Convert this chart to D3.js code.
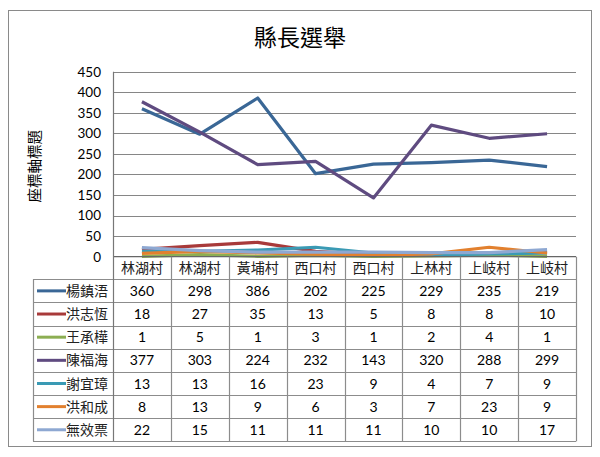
<!DOCTYPE html>
<html><head><meta charset="utf-8">
<script src="https://cdn.jsdelivr.net/npm/d3@7"></script>
<style>body{margin:0;background:#fff;}svg{display:block;}</style>
</head><body><svg id="c" width="600" height="457"></svg>
<script>
const categories = ["林湖村","林湖村","黃埔村","西口村","西口村","上林村","上岐村","上岐村"];
const seriesNames = ["楊鎮浯","洪志恆","王承樺","陳福海","謝宜璋","洪和成","無效票"];
const v楊鎮浯 = [360,298,386,202,225,229,235,219];
const v洪志恆 = [18,27,35,13,5,8,8,10];
const v王承樺 = [1,5,1,3,1,2,4,1];
const v陳福海 = [377,303,224,232,143,320,288,299];
const v謝宜璋 = [13,13,16,23,9,4,7,9];
const v洪和成 = [8,13,9,6,3,7,23,9];
const v無效票 = [22,15,11,11,11,10,10,17];
const seriesValues = [v楊鎮浯,v洪志恆,v王承樺,v陳福海,v謝宜璋,v洪和成,v無效票];
const seriesColors = ["#3A6796","#A83A3A","#8CAE52","#5F4B80","#3A9AB4","#E2802E","#8EA8D2"];
const yTicks = [0,50,100,150,200,250,300,350,400,450];
const title = "縣長選舉";
const yTitle = "座標軸標題";

const svg = d3.select("#c");
const cjk = "'Noto Sans CJK TC','Noto Sans CJK SC',sans-serif";
const num = "Lato,'Open Sans',sans-serif";

svg.append("rect").attr("x",8.5).attr("y",10.5).attr("width",583).attr("height",436)
  .attr("fill","#fff").attr("stroke","#8a8a8a").attr("stroke-width",1);

const L=113, R=576, T=71.7, B=256.7;
const x = d3.scaleBand().domain(d3.range(categories.length)).range([L,R]).padding(0);
const y = d3.scaleLinear().domain([0,450]).range([B,T]);

svg.append("text").attr("x",300).attr("y",46).attr("text-anchor","middle")
  .attr("font-family",cjk).attr("font-size",23).attr("fill","#000").text(title);

// gridlines
svg.append("g").selectAll("line").data(yTicks.filter(t=>t>0)).join("line")
  .attr("x1",L).attr("x2",R).attr("y1",d=>Math.round(y(d))+0.5).attr("y2",d=>Math.round(y(d))+0.5)
  .attr("stroke","#868686").attr("stroke-width",1);

// y axis labels
const yAxis = d3.axisLeft(y).tickValues(yTicks).tickSize(0).tickPadding(0);
const ga = svg.append("g").attr("transform",`translate(${L-12},0)`).call(yAxis);
ga.select(".domain").remove();
ga.selectAll("text").attr("font-family",num).attr("font-size",13.5).attr("fill","#000");

svg.append("text").attr("transform",`translate(40,${(T+B)/2+2}) rotate(-90)`)
  .attr("text-anchor","middle").attr("font-family",cjk).attr("font-size",14.5)
  .attr("fill","#000").text(yTitle);

// lines
const line = d3.line().x((d,i)=>x(i)+x.bandwidth()/2).y(d=>y(d));
svg.append("g").selectAll("path").data(seriesValues).join("path")
  .attr("d",d=>line(d)).attr("fill","none").attr("stroke",(d,i)=>seriesColors[i])
  .attr("stroke-width",3.2).attr("stroke-linejoin","round").attr("stroke-linecap","butt");

// table
const rowH = 23.15;
const headTop = B, headBot = B+22.6;
const tg = svg.append("g");
const lineColor = "#8c8c8c";
const rowsBottom = headBot + rowH*seriesNames.length;
tg.append("line").attr("x1",L).attr("x2",R).attr("y1",headTop).attr("y2",headTop).attr("stroke","#666").attr("stroke-width",1.2);
for(let i=0;i<=seriesNames.length;i++){
  const yy = Math.round(headBot + rowH*i)+0.5;
  tg.append("line").attr("x1",33).attr("x2",R).attr("y1",yy).attr("y2",yy).attr("stroke",lineColor).attr("stroke-width",1.2);
}
tg.append("line").attr("x1",33.5).attr("x2",33.5).attr("y1",headBot).attr("y2",rowsBottom).attr("stroke",lineColor).attr("stroke-width",1.2);
svg.append("line").attr("x1",L+0.5).attr("x2",L+0.5).attr("y1",T).attr("y2",rowsBottom).attr("stroke","#777").attr("stroke-width",1.2);
for(let i=1;i<=categories.length;i++){
  const xx = Math.round(x(0)+x.bandwidth()*i)+0.5;
  tg.append("line").attr("x1",xx).attr("x2",xx).attr("y1",headTop).attr("y2",rowsBottom).attr("stroke",lineColor).attr("stroke-width",1.2);
}
tg.selectAll("text.cat").data(categories).join("text").attr("class","cat")
  .attr("x",(d,i)=>x(i)+x.bandwidth()/2).attr("y",(headTop+headBot)/2).attr("dy","0.36em")
  .attr("text-anchor","middle").attr("font-family",cjk).attr("font-size",14).attr("fill","#222").text(d=>d);
seriesNames.forEach((nm,si)=>{
  const cy = headBot + rowH*si + rowH/2;
  tg.append("line").attr("x1",37).attr("x2",66).attr("y1",cy).attr("y2",cy)
    .attr("stroke",seriesColors[si]).attr("stroke-width",3);
  tg.append("text").attr("x",66).attr("y",cy).attr("dy","0.36em").attr("font-family",cjk)
    .attr("font-size",14).attr("fill","#222").text(nm);
  tg.selectAll(null).data(seriesValues[si]).join("text")
    .attr("x",(d,i)=>x(i)+x.bandwidth()/2).attr("y",cy).attr("dy","0.36em")
    .attr("text-anchor","middle").attr("font-family",num).attr("font-size",14).attr("fill","#000").text(d=>d);
});
</script></body></html>
